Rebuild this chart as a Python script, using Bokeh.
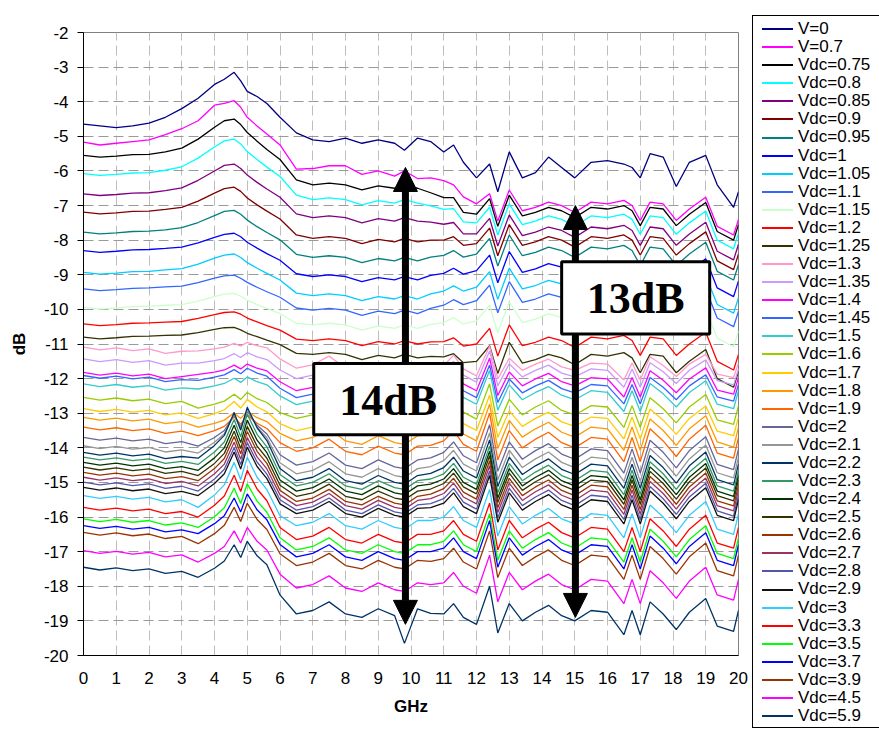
from bokeh.plotting import figure
from bokeh.models import Arrow, NormalHead, BoxAnnotation, Label, FixedTicker, Div
from bokeh.layouts import row
from bokeh.embed import file_html
from bokeh.resources import INLINE

freq_ghz = [0, 0.5, 1, 1.5, 2, 2.5, 3, 3.5, 4, 4.3, 4.6, 4.8, 5.0, 5.3, 5.6, 6.0, 6.5, 7, 7.5, 8,
            8.5, 9, 9.5, 9.8, 10.2, 10.6, 11, 11.3, 11.6, 12.0, 12.4, 12.65, 13.0, 13.4, 13.8, 14.2,
            14.6, 15, 15.5, 16, 16.5, 16.75, 17, 17.3, 17.7, 18.1, 18.5, 19, 19.35, 19.85, 20]

v_0 = [-4.65,-4.7,-4.75,-4.7,-4.62,-4.45,-4.2,-3.9,-3.5,-3.35, -3.15,-3.4,-3.7,-3.85,-4.05,-4.45,-4.9,-5.1,-5.15,-5.05, -5.2,-5.1,-5.2,-5.4,-5.05,-5.15,-5.45,-5.25,-5.75,-6.2, -5.8,-6.6,-5.45,-6.2,-6.05,-5.6,-5.9,-6.2,-5.75,-5.7, -5.8,-5.9,-6.2,-5.5,-5.6,-6.45,-5.75,-5.55,-6.4,-7.05, -6.6]
v_0p7 = [-5.17,-5.25,-5.2,-5.15,-5.1,-4.95,-4.78,-4.55,-4.1,-4.05, -3.97,-4.16,-4.45,-4.7,-4.93,-5.25,-5.95,-5.93,-5.85,-5.85, -6.1,-6.0,-6.15,-6.0,-6.22,-6.2,-6.28,-6.4,-6.75,-6.95, -6.66,-7.45,-6.55,-7.15,-7.05,-6.9,-7.0,-7.2,-6.9,-6.95, -6.85,-7.0,-7.43,-6.9,-6.95,-7.43,-7.1,-6.76,-7.6,-7.85, -7.4]
vdc_0p75 = [-5.55,-5.6,-5.57,-5.53,-5.52,-5.45,-5.34,-5.08,-4.74,-4.55, -4.5,-4.66,-4.89,-5.14,-5.38,-5.67,-6.26,-6.4,-6.35,-6.4, -6.55,-6.43,-6.5,-6.4,-6.5,-6.63,-6.77,-6.77,-7.2,-7.25, -6.8,-7.6,-6.7,-7.3,-7.2,-7.05,-7.15,-7.35,-7.05,-7.1, -7.0,-7.15,-7.58,-7.05,-7.1,-7.58,-7.25,-6.91,-7.75,-8.0, -7.55]
vdc_0p8 = [-6.08,-6.13,-6.1,-6.06,-6.05,-5.98,-5.88,-5.63,-5.31,-5.13, -5.08,-5.22,-5.44,-5.67,-5.89,-6.16,-6.7,-6.83,-6.78,-6.83, -6.98,-6.86,-6.93,-6.83,-6.93,-7.01,-7.11,-7.09,-7.47,-7.5, -7.05,-7.85,-6.95,-7.55,-7.45,-7.3,-7.4,-7.6,-7.3,-7.35, -7.25,-7.4,-7.83,-7.3,-7.35,-7.83,-7.5,-7.16,-8.0,-8.25, -7.8]
vdc_0p85 = [-6.66,-6.71,-6.68,-6.64,-6.63,-6.57,-6.49,-6.27,-6.0,-5.84, -5.8,-5.93,-6.12,-6.33,-6.52,-6.76,-7.24,-7.35,-7.3,-7.35, -7.5,-7.38,-7.45,-7.35,-7.45,-7.48,-7.54,-7.49,-7.82,-7.82, -7.37,-8.17,-7.27,-7.87,-7.77,-7.62,-7.72,-7.92,-7.62,-7.67, -7.57,-7.72,-8.15,-7.62,-7.67,-8.15,-7.82,-7.48,-8.32,-8.57, -8.12]
vdc_0p9 = [-7.19,-7.24,-7.21,-7.17,-7.16,-7.11,-7.05,-6.87,-6.64,-6.51, -6.47,-6.59,-6.78,-6.98,-7.16,-7.39,-7.85,-7.95,-7.9,-7.95, -8.1,-7.98,-8.05,-7.95,-8.05,-8.0,-8.0,-7.9,-8.15,-8.1, -7.65,-8.45,-7.55,-8.15,-8.05,-7.9,-8.0,-8.2,-7.9,-7.95, -7.85,-8.0,-8.43,-7.9,-7.95,-8.43,-8.1,-7.76,-8.6,-8.85, -8.4]
vdc_0p95 = [-7.77,-7.82,-7.79,-7.75,-7.74,-7.7,-7.64,-7.49,-7.29,-7.17, -7.14,-7.25,-7.42,-7.61,-7.78,-7.99,-8.41,-8.5,-8.45,-8.5, -8.65,-8.53,-8.6,-8.5,-8.6,-8.49,-8.44,-8.3,-8.49,-8.4, -7.95,-8.75,-7.85,-8.45,-8.35,-8.2,-8.3,-8.5,-8.2,-8.25, -8.15,-8.3,-8.73,-8.2,-8.25,-8.73,-8.4,-8.06,-8.9,-9.15, -8.7]
vdc_1 = [-8.3,-8.35,-8.32,-8.28,-8.27,-8.24,-8.2,-8.08,-7.92,-7.83, -7.8,-7.9,-8.06,-8.23,-8.39,-8.58,-8.97,-9.05,-9.0,-9.05, -9.2,-9.08,-9.15,-9.05,-9.15,-9.02,-8.96,-8.81,-8.98,-8.88, -8.43,-9.23,-8.33,-8.93,-8.83,-8.68,-8.78,-8.98,-8.68,-8.73, -8.63,-8.78,-9.21,-8.68,-8.73,-9.21,-8.88,-8.54,-9.38,-9.63, -9.18]
vdc_1p05 = [-8.93,-8.98,-8.95,-8.91,-8.9,-8.86,-8.82,-8.69,-8.52,-8.43, -8.4,-8.5,-8.65,-8.81,-8.96,-9.15,-9.53,-9.6,-9.55,-9.6, -9.75,-9.63,-9.7,-9.6,-9.7,-9.55,-9.47,-9.32,-9.47,-9.36, -8.91,-9.71,-8.81,-9.41,-9.31,-9.16,-9.26,-9.46,-9.16,-9.21, -9.11,-9.26,-9.69,-9.16,-9.21,-9.69,-9.36,-9.02,-9.86,-10.11, -9.66]
vdc_1p1 = [-9.41,-9.46,-9.43,-9.39,-9.38,-9.35,-9.33,-9.23,-9.1,-9.03, -9.01,-9.1,-9.22,-9.36,-9.49,-9.65,-9.96,-10.02,-9.97,-10.02, -10.17,-10.05,-10.12,-10.02,-10.12,-9.97,-9.88,-9.72,-9.86,-9.75, -9.3,-10.1,-9.2,-9.8,-9.7,-9.55,-9.65,-9.85,-9.55,-9.6, -9.5,-9.65,-10.08,-9.55,-9.6,-10.08,-9.75,-9.41,-10.25,-10.5, -10.05]
vdc_1p15 = [-9.94,-9.99,-9.96,-9.92,-9.91,-9.88,-9.86,-9.76,-9.63,-9.56, -9.54,-9.62,-9.73,-9.86,-9.97,-10.12,-10.4,-10.45,-10.4,-10.45, -10.6,-10.48,-10.55,-10.45,-10.55,-10.43,-10.38,-10.24,-10.42,-10.33, -9.88,-10.68,-9.78,-10.38,-10.28,-10.13,-10.23,-10.43,-10.13,-10.18, -10.08,-10.23,-10.66,-10.13,-10.18,-10.66,-10.33,-9.99,-10.83,-11.08, -10.63]
vdc_1p2 = [-10.42,-10.47,-10.44,-10.4,-10.39,-10.37,-10.35,-10.26,-10.15,-10.09, -10.07,-10.14,-10.25,-10.36,-10.47,-10.6,-10.86,-10.9,-10.85,-10.9, -11.05,-10.93,-11.0,-10.9,-11.0,-10.94,-10.93,-10.82,-11.06,-11.0, -10.55,-11.35,-10.45,-11.05,-10.95,-10.8,-10.9,-11.1,-10.8,-10.85, -10.75,-10.9,-11.33,-10.8,-10.85,-11.33,-11.0,-10.66,-11.5,-11.75, -11.3]
vdc_1p25 = [-10.8,-10.85,-10.82,-10.78,-10.77,-10.75,-10.74,-10.67,-10.58,-10.53, -10.52,-10.59,-10.69,-10.79,-10.89,-11.02,-11.27,-11.3,-11.25,-11.3, -11.45,-11.33,-11.4,-11.3,-11.4,-11.36,-11.37,-11.28,-11.54,-11.5, -11.05,-11.85,-10.95,-11.55,-11.45,-11.3,-11.4,-11.6,-11.3,-11.35, -11.25,-11.4,-11.83,-11.3,-11.35,-11.83,-11.5,-11.16,-12.0,-12.25, -11.8]
vdc_1p3 = [-11.09,-11.17,-11.11,-11.19,-11.14,-11.27,-11.21,-11.2,-11.14,-11.09, -10.98,-11.06,-10.95,-11.05,-11.11,-11.43,-11.7,-11.6,-11.35,-11.7, -11.8,-11.55,-11.75,-11.8,-11.55,-11.64,-11.62,-11.32,-11.72,-11.92, -11.06,-12.01,-11.41,-11.76,-11.58,-11.44,-11.66,-11.76,-11.55,-11.58, -12.04,-11.55,-12.04,-11.37,-11.62,-11.94,-11.58,-11.3,-11.87,-11.97, -11.55]
vdc_1p35 = [-11.43,-11.51,-11.45,-11.53,-11.48,-11.61,-11.55,-11.55,-11.48,-11.42, -11.28,-11.39,-11.25,-11.37,-11.45,-11.75,-12.0,-11.9,-11.65,-12.0, -12.1,-11.85,-12.05,-12.1,-11.85,-11.88,-11.8,-11.5,-11.9,-12.1, -11.2,-12.21,-11.57,-11.95,-11.76,-11.61,-11.84,-11.95,-11.72,-11.76, -12.25,-11.72,-12.25,-11.54,-11.8,-12.14,-11.76,-11.46,-12.06,-12.18, -11.72]
vdc_1p4 = [-11.82,-11.9,-11.84,-11.92,-11.87,-12.0,-11.94,-11.88,-11.81,-11.75, -11.61,-11.72,-11.58,-11.7,-11.78,-12.09,-12.35,-12.25,-12.0,-12.35, -12.45,-12.2,-12.4,-12.45,-12.2,-12.18,-12.05,-11.75,-12.15,-12.35, -11.41,-12.49,-11.81,-12.21,-12.01,-11.85,-12.09,-12.21,-11.97,-12.01, -12.53,-11.97,-12.53,-11.77,-12.05,-12.41,-12.01,-11.69,-12.33,-12.45, -11.97]
vdc_1p45 = [-11.91,-11.99,-11.93,-12.01,-11.96,-12.09,-12.03,-12.05,-11.96,-11.89, -11.74,-11.86,-11.7,-11.84,-11.93,-12.28,-12.55,-12.45,-12.2,-12.55, -12.65,-12.4,-12.6,-12.65,-12.4,-12.38,-12.25,-11.95,-12.35,-12.55, -11.61,-12.69,-12.01,-12.41,-12.21,-12.05,-12.29,-12.41,-12.17,-12.21, -12.73,-12.17,-12.73,-11.97,-12.25,-12.61,-12.21,-11.89,-12.53,-12.65, -12.17]
vdc_1p5 = [-12.15,-12.23,-12.17,-12.25,-12.2,-12.33,-12.27,-12.3,-12.21,-12.14, -11.99,-12.11,-11.95,-12.09,-12.18,-12.5,-12.75,-12.65,-12.4,-12.75, -12.85,-12.6,-12.8,-12.85,-12.6,-12.57,-12.44,-12.14,-12.54,-12.74, -11.76,-12.91,-12.18,-12.61,-12.4,-12.23,-12.48,-12.61,-12.35,-12.4, -12.95,-12.35,-12.95,-12.14,-12.44,-12.82,-12.4,-12.06,-12.74,-12.87, -12.35]
vdc_1p6 = [-12.54,-12.62,-12.56,-12.64,-12.59,-12.72,-12.66,-12.85,-12.74,-12.65, -12.45,-12.6,-12.4,-12.58,-12.69,-12.98,-13.15,-13.05,-12.8,-13.15, -13.25,-13.0,-13.2,-13.25,-13.0,-12.99,-12.87,-12.57,-12.97,-13.17, -12.15,-13.37,-12.6,-13.05,-12.82,-12.64,-12.92,-13.05,-12.78,-12.82, -13.41,-12.78,-13.41,-12.55,-12.87,-13.28,-12.82,-12.46,-13.19,-13.32, -12.78]
vdc_1p7 = [-12.87,-12.95,-12.89,-12.97,-12.92,-13.05,-12.99,-13.15,-13.01,-12.9, -12.66,-12.85,-12.6,-12.82,-12.96,-13.3,-13.5,-13.4,-13.15,-13.5, -13.6,-13.35,-13.55,-13.6,-13.35,-13.33,-13.2,-12.9,-13.3,-13.5, -12.48,-13.7,-12.93,-13.38,-13.15,-12.97,-13.25,-13.38,-13.11,-13.15, -13.74,-13.11,-13.74,-12.88,-13.2,-13.61,-13.15,-12.79,-13.52,-13.65, -13.11]
vdc_1p8 = [-13.12,-13.2,-13.14,-13.22,-13.17,-13.3,-13.24,-13.4,-13.29,-13.2, -12.99,-13.15,-12.95,-13.13,-13.24,-13.58,-13.8,-13.7,-13.45,-13.8, -13.9,-13.65,-13.85,-13.9,-13.65,-13.63,-13.5,-13.2,-13.6,-13.8, -12.74,-14.02,-13.21,-13.69,-13.45,-13.26,-13.55,-13.69,-13.4,-13.45, -14.07,-13.4,-14.07,-13.17,-13.5,-13.93,-13.45,-13.07,-13.83,-13.98, -13.4]
vdc_1p9 = [-13.4,-13.48,-13.42,-13.5,-13.45,-13.58,-13.52,-13.65,-13.5,-13.38, -13.11,-13.32,-13.05,-13.29,-13.44,-13.85,-14.1,-14.0,-13.75,-14.1, -14.2,-13.95,-14.15,-14.2,-13.95,-13.93,-13.8,-13.5,-13.9,-14.1, -13.0,-14.35,-13.5,-14.0,-13.75,-13.55,-13.85,-14.0,-13.7,-13.75, -14.4,-13.7,-14.4,-13.45,-13.8,-14.25,-13.75,-13.35,-14.15,-14.3, -13.7]
vdc_2 = [-13.7,-13.78,-13.72,-13.8,-13.75,-13.88,-13.82,-13.95,-13.7,-13.5, -13.05,-13.4,-12.95,-13.35,-13.6,-14.2,-14.5,-14.4,-14.15,-14.5, -14.6,-14.35,-14.55,-14.6,-14.35,-14.29,-14.13,-13.83,-14.23,-14.43, -13.33,-14.68,-13.83,-14.33,-14.08,-13.88,-14.18,-14.33,-14.03,-14.08, -14.73,-14.03,-14.73,-13.78,-14.13,-14.58,-14.08,-13.68,-14.48,-14.63, -14.03]
vdc_2p1 = [-13.94,-14.02,-13.96,-14.04,-13.99,-14.12,-14.06,-14.15,-13.84,-13.59, -13.03,-13.46,-12.9,-13.4,-13.71,-14.43,-14.75,-14.65,-14.4,-14.75, -14.85,-14.6,-14.8,-14.85,-14.6,-14.54,-14.37,-14.07,-14.47,-14.67, -13.57,-14.92,-14.07,-14.57,-14.32,-14.12,-14.42,-14.57,-14.27,-14.32, -14.97,-14.27,-14.97,-14.02,-14.37,-14.82,-14.32,-13.92,-14.72,-14.87, -14.27]
vdc_2p2 = [-14.13,-14.21,-14.15,-14.23,-14.18,-14.31,-14.25,-14.3,-13.93,-13.64, -12.98,-13.49,-12.83,-13.42,-13.79,-14.6,-14.95,-14.85,-14.6,-14.95, -15.05,-14.8,-15.0,-15.05,-14.8,-14.74,-14.57,-14.27,-14.67,-14.87, -13.77,-15.12,-14.27,-14.77,-14.52,-14.32,-14.62,-14.77,-14.47,-14.52, -15.17,-14.47,-15.17,-14.22,-14.57,-15.02,-14.52,-14.12,-14.92,-15.07, -14.47]
vdc_2p3 = [-14.27,-14.35,-14.29,-14.37,-14.32,-14.45,-14.39,-14.48,-14.12,-13.83, -13.18,-13.68,-13.03,-13.61,-13.97,-14.77,-15.1,-15.0,-14.75,-15.1, -15.2,-14.95,-15.15,-15.2,-14.95,-14.9,-14.75,-14.45,-14.85,-15.05, -13.95,-15.3,-14.45,-14.95,-14.7,-14.5,-14.8,-14.95,-14.65,-14.7, -15.35,-14.65,-15.35,-14.4,-14.75,-15.2,-14.7,-14.3,-15.1,-15.25, -14.65]
vdc_2p4 = [-14.42,-14.5,-14.44,-14.52,-14.47,-14.6,-14.54,-14.65,-14.29,-14.0, -13.35,-13.85,-13.2,-13.78,-14.14,-14.93,-15.25,-15.15,-14.9,-15.25, -15.35,-15.1,-15.3,-15.35,-15.1,-15.05,-14.9,-14.6,-15.0,-15.2, -14.1,-15.45,-14.6,-15.1,-14.85,-14.65,-14.95,-15.1,-14.8,-14.85, -15.5,-14.8,-15.5,-14.55,-14.9,-15.35,-14.85,-14.45,-15.25,-15.4, -14.8]
vdc_2p5 = [-14.56,-14.64,-14.58,-14.66,-14.61,-14.74,-14.68,-14.8,-14.45,-14.16, -13.52,-14.02,-13.38,-13.95,-14.3,-15.08,-15.4,-15.3,-15.05,-15.4, -15.5,-15.25,-15.45,-15.5,-15.25,-15.19,-15.03,-14.73,-15.13,-15.33, -14.23,-15.58,-14.73,-15.23,-14.98,-14.78,-15.08,-15.23,-14.93,-14.98, -15.63,-14.93,-15.63,-14.68,-15.03,-15.48,-14.98,-14.58,-15.38,-15.53, -14.93]
vdc_2p6 = [-14.71,-14.79,-14.73,-14.81,-14.76,-14.89,-14.83,-14.95,-14.6,-14.31, -13.67,-14.17,-13.53,-14.1,-14.45,-15.23,-15.55,-15.45,-15.2,-15.55, -15.65,-15.4,-15.6,-15.65,-15.4,-15.34,-15.18,-14.88,-15.28,-15.48, -14.38,-15.73,-14.88,-15.38,-15.13,-14.93,-15.23,-15.38,-15.08,-15.13, -15.78,-15.08,-15.78,-14.83,-15.18,-15.63,-15.13,-14.73,-15.53,-15.68, -15.08]
vdc_2p7 = [-14.85,-14.93,-14.87,-14.95,-14.9,-15.03,-14.97,-15.1,-14.75,-14.47, -13.84,-14.33,-13.7,-14.26,-14.61,-15.36,-15.67,-15.57,-15.32,-15.67, -15.77,-15.52,-15.72,-15.77,-15.52,-15.47,-15.32,-15.02,-15.42,-15.62, -14.52,-15.87,-15.02,-15.52,-15.27,-15.07,-15.37,-15.52,-15.22,-15.27, -15.92,-15.22,-15.92,-14.97,-15.32,-15.77,-15.27,-14.87,-15.67,-15.82, -15.22]
vdc_2p8 = [-14.99,-15.07,-15.01,-15.09,-15.04,-15.17,-15.11,-15.25,-14.9,-14.62, -13.99,-14.48,-13.85,-14.41,-14.76,-15.5,-15.8,-15.7,-15.45,-15.8, -15.9,-15.65,-15.85,-15.9,-15.65,-15.61,-15.47,-15.17,-15.57,-15.77, -14.67,-16.02,-15.17,-15.67,-15.42,-15.22,-15.52,-15.67,-15.37,-15.42, -16.07,-15.37,-16.07,-15.12,-15.47,-15.92,-15.42,-15.02,-15.82,-15.97, -15.37]
vdc_2p9 = [-15.14,-15.22,-15.16,-15.24,-15.19,-15.32,-15.26,-15.38,-15.03,-14.75, -14.12,-14.61,-13.98,-14.54,-14.89,-15.62,-15.9,-15.8,-15.55,-15.9, -16.0,-15.75,-15.95,-16.0,-15.75,-15.73,-15.6,-15.3,-15.7,-15.9, -14.8,-16.15,-15.3,-15.8,-15.55,-15.35,-15.65,-15.8,-15.5,-15.55, -16.2,-15.5,-16.2,-15.25,-15.6,-16.05,-15.55,-15.15,-15.95,-16.1, -15.5]
vdc_3 = [-15.38,-15.46,-15.4,-15.48,-15.43,-15.56,-15.5,-15.72,-15.36,-15.07, -14.42,-14.92,-14.27,-14.85,-15.21,-15.96,-16.25,-16.15,-15.9,-16.25, -16.35,-16.1,-16.3,-16.35,-16.1,-16.1,-16.0,-15.7,-16.1,-16.3, -15.2,-16.55,-15.7,-16.2,-15.95,-15.75,-16.05,-16.2,-15.9,-15.95, -16.6,-15.9,-16.6,-15.65,-16.0,-16.45,-15.95,-15.55,-16.35,-16.5, -15.9]
vdc_3p3 = [-15.72,-15.8,-15.74,-15.82,-15.77,-15.9,-15.84,-16.0,-15.66,-15.39, -14.79,-15.26,-14.65,-15.19,-15.53,-16.3,-16.65,-16.55,-16.3,-16.65, -16.75,-16.5,-16.7,-16.75,-16.5,-16.5,-16.4,-16.1,-16.5,-16.7, -15.6,-16.95,-16.1,-16.6,-16.35,-16.15,-16.45,-16.6,-16.3,-16.35, -17.0,-16.3,-17.0,-16.05,-16.4,-16.85,-16.35,-15.95,-16.75,-16.9, -16.3]
vdc_3p5 = [-16.05,-16.13,-16.07,-16.15,-16.1,-16.23,-16.17,-16.3,-15.99,-15.73, -15.17,-15.61,-15.04,-15.54,-15.86,-16.6,-16.95,-16.85,-16.6,-16.95, -17.05,-16.8,-17.0,-17.05,-16.8,-16.8,-16.7,-16.4,-16.8,-17.0, -15.9,-17.25,-16.4,-16.9,-16.65,-16.45,-16.75,-16.9,-16.6,-16.65, -17.3,-16.6,-17.3,-16.35,-16.7,-17.15,-16.65,-16.25,-17.05,-17.2, -16.6]
vdc_3p7 = [-16.25,-16.33,-16.27,-16.35,-16.3,-16.43,-16.37,-16.48,-16.19,-15.96, -15.45,-15.85,-15.33,-15.79,-16.08,-16.79,-17.15,-17.05,-16.8,-17.15, -17.25,-17.0,-17.2,-17.25,-17.0,-17.0,-16.9,-16.6,-17.0,-17.2, -16.1,-17.45,-16.6,-17.1,-16.85,-16.65,-16.95,-17.1,-16.8,-16.85, -17.5,-16.8,-17.5,-16.55,-16.9,-17.35,-16.85,-16.45,-17.25,-17.4, -16.8]
vdc_3p9 = [-16.44,-16.52,-16.46,-16.54,-16.49,-16.62,-16.56,-16.77,-16.48,-16.24, -15.72,-16.13,-15.6,-16.07,-16.36,-17.06,-17.4,-17.3,-17.05,-17.4, -17.5,-17.25,-17.45,-17.5,-17.25,-17.28,-17.2,-16.9,-17.3,-17.5, -16.4,-17.75,-16.9,-17.4,-17.15,-16.95,-17.25,-17.4,-17.1,-17.15, -17.8,-17.1,-17.8,-16.85,-17.2,-17.65,-17.15,-16.75,-17.55,-17.7, -17.1]
vdc_4p5 = [-16.97,-17.05,-16.99,-17.07,-17.02,-17.15,-17.09,-17.3,-17.05,-16.85, -16.4,-16.75,-16.3,-16.7,-16.95,-17.65,-18.05,-17.95,-17.7,-18.05, -18.15,-17.9,-18.1,-18.15,-17.9,-17.95,-17.9,-17.6,-18.0,-18.2, -17.1,-18.45,-17.6,-18.1,-17.85,-17.65,-17.95,-18.1,-17.8,-17.85, -18.5,-17.8,-18.5,-17.55,-17.9,-18.35,-17.85,-17.45,-18.25,-18.4, -17.8]
vdc_5p9 = [-17.45,-17.53,-17.47,-17.55,-17.5,-17.63,-17.57,-17.74,-17.48,-17.27, -16.8,-17.17,-16.7,-17.12,-17.38,-18.25,-18.8,-18.7,-18.45,-18.8, -18.9,-18.65,-18.85,-19.65,-18.65,-18.78,-18.8,-18.5,-18.9,-19.1, -18.0,-19.35,-18.5,-19.0,-18.75,-18.55,-18.85,-19.0,-18.7,-18.75, -19.4,-18.7,-19.4,-18.45,-18.8,-19.25,-18.75,-18.35,-19.15,-19.3, -18.7]

labels = ["V=0", "V=0.7", "Vdc=0.75", "Vdc=0.8", "Vdc=0.85", "Vdc=0.9", "Vdc=0.95", "Vdc=1",
          "Vdc=1.05", "Vdc=1.1", "Vdc=1.15", "Vdc=1.2", "Vdc=1.25", "Vdc=1.3", "Vdc=1.35",
          "Vdc=1.4", "Vdc=1.45", "Vdc=1.5", "Vdc=1.6", "Vdc=1.7", "Vdc=1.8", "Vdc=1.9", "Vdc=2",
          "Vdc=2.1", "Vdc=2.2", "Vdc=2.3", "Vdc=2.4", "Vdc=2.5", "Vdc=2.6", "Vdc=2.7", "Vdc=2.8",
          "Vdc=2.9", "Vdc=3", "Vdc=3.3", "Vdc=3.5", "Vdc=3.7", "Vdc=3.9", "Vdc=4.5", "Vdc=5.9"]

colors = ["#000080", "#FF00FF", "#000000", "#00FFFF", "#800080", "#800000", "#008080", "#0000FF",
          "#00CCFF", "#3366FF", "#CCFFCC", "#FF0000", "#333300", "#FF99CC", "#CC99FF",
          "#FF00FF", "#3366FF", "#33CCCC", "#99CC00", "#FFCC00", "#FF9900", "#FF6600", "#666699",
          "#969696", "#003366", "#339966", "#003300", "#333300", "#993300", "#993366", "#5555AA",
          "#111111", "#33CCFF", "#FF0000", "#00FF00", "#0000FF", "#993300", "#FF00FF", "#003366"]

series = [v_0, v_0p7, vdc_0p75, vdc_0p8, vdc_0p85, vdc_0p9, vdc_0p95, vdc_1, vdc_1p05, vdc_1p1,
          vdc_1p15, vdc_1p2, vdc_1p25, vdc_1p3, vdc_1p35, vdc_1p4, vdc_1p45, vdc_1p5, vdc_1p6,
          vdc_1p7, vdc_1p8, vdc_1p9, vdc_2, vdc_2p1, vdc_2p2, vdc_2p3, vdc_2p4, vdc_2p5, vdc_2p6,
          vdc_2p7, vdc_2p8, vdc_2p9, vdc_3, vdc_3p3, vdc_3p5, vdc_3p7, vdc_3p9, vdc_4p5, vdc_5p9]

x_ticks = list(range(0, 21))
y_ticks = list(range(-20, -1))

# annotations: (x, top, bottom) of the double arrows, boxes (left, right, bottom, top), text positions
arrow_14 = (9.83, -5.9, -19.1)
arrow_13 = (15.02, -7.0, -18.9)
box_14 = (7.03, 11.56, -13.62, -11.56)
box_13 = (14.6, 19.12, -10.71, -8.62)
text_14 = (9.3, -12.62, "14dB")
text_13 = (16.86, -9.68, "13dB")

for s in series:
    assert len(s) == len(freq_ghz), len(s)

p = figure(width=752, height=729, x_range=(0, 20), y_range=(-20, -2),
           output_backend="svg", toolbar_location=None,
           min_border_left=83, min_border_right=14, min_border_top=32, min_border_bottom=74)
p.background_fill_color = "white"
p.border_fill_color = "white"
p.outline_line_color = "#808080"
p.outline_line_width = 1

p.xaxis.ticker = FixedTicker(ticks=x_ticks)
p.yaxis.ticker = FixedTicker(ticks=y_ticks)
p.xgrid.ticker = FixedTicker(ticks=x_ticks)
p.ygrid.ticker = FixedTicker(ticks=y_ticks)
p.xgrid.grid_line_color = "#BEBEBE"
p.xgrid.grid_line_dash = "10 5"
p.ygrid.grid_line_color = "#9A9A9A"
p.ygrid.grid_line_dash = "10 5"
p.yaxis.major_label_overrides = {t: str(t) for t in y_ticks}
p.xaxis.major_label_overrides = {t: str(t) for t in x_ticks}

for ax in (p.xaxis, p.yaxis):
    ax.axis_line_color = "black"
    ax.axis_line_width = 1
    ax.major_label_text_font = "Liberation Sans"
    ax.major_label_text_font_size = "17px"
    ax.major_label_text_color = "black"
    ax.axis_label_text_font = "Liberation Sans"
    ax.axis_label_text_font_size = "17px"
    ax.axis_label_text_font_style = "bold"
    ax.axis_label_text_color = "black"
    ax.minor_tick_in = 0
    ax.minor_tick_out = 0
    ax.major_tick_line_color = "black"

p.xaxis.axis_label = "GHz"
p.yaxis.axis_label = "dB"
p.xaxis.major_tick_in = 0
p.xaxis.major_tick_out = 0
p.xaxis.major_label_standoff = 16
p.xaxis.axis_label_standoff = 10
p.yaxis.major_tick_in = 0
p.yaxis.major_tick_out = 6
p.yaxis.major_label_standoff = 9
p.yaxis.axis_label_standoff = 12

for lab, col, vals in zip(labels, colors, series):
    p.line(freq_ghz, vals, line_color=col, line_width=1.3)

for ax_, top, bot in (arrow_14, arrow_13):
    p.add_layout(Arrow(start=NormalHead(size=24, fill_color="black", line_color="black"),
                       end=NormalHead(size=24, fill_color="black", line_color="black"),
                       x_start=ax_, y_start=top, x_end=ax_, y_end=bot,
                       line_width=7, line_color="black"))

for l, rgt, b, t in (box_14, box_13):
    p.add_layout(BoxAnnotation(left=l, right=rgt, bottom=b, top=t, fill_color="white",
                               fill_alpha=1.0, line_color="black", line_width=3, line_alpha=1.0))

for tx, ty, tt in (text_14, text_13):
    p.add_layout(Label(x=tx, y=ty, text=tt, text_font="Liberation Serif", text_font_style="bold",
                       text_font_size="44px", text_align="center", text_baseline="middle",
                       text_color="black"))

# legend column beside the plot (an HTML block, so it can rise above and run below the plot frame)
ROW_PITCH = 18.08
rows_html = "".join(
    f'<div style="position:absolute;left:9px;top:{4 + i * ROW_PITCH:.2f}px;height:{ROW_PITCH}px;'
    'display:flex;align-items:center;white-space:nowrap;margin:0;padding:0;">'
    f'<span style="display:inline-block;width:31px;height:2px;background-color:{col};'
    'border:none;margin:0 5px 0 0;"></span>'
    f'<span style="line-height:{ROW_PITCH}px;">{lab}</span></div>'
    for i, (lab, col) in enumerate(zip(labels, colors)))
legend_html = ('<div style="position:absolute;left:0px;top:15px;width:150px;'
               f'height:{8 + len(labels) * ROW_PITCH:.0f}px;border:1px solid #000;'
               'background:#fff;margin:0;padding:0;font-family:\'Liberation Sans\',Arial,sans-serif;'
               'font-size:17px;color:#000;">'
               + rows_html + '</div>')
legend_div = Div(text=legend_html, width=127, height=729,
                 styles={"position": "relative", "overflow": "hidden", "background": "white",
                         "margin": "0", "padding": "0"})

open("out.html", "w").write(file_html(row(p, legend_div), INLINE))
